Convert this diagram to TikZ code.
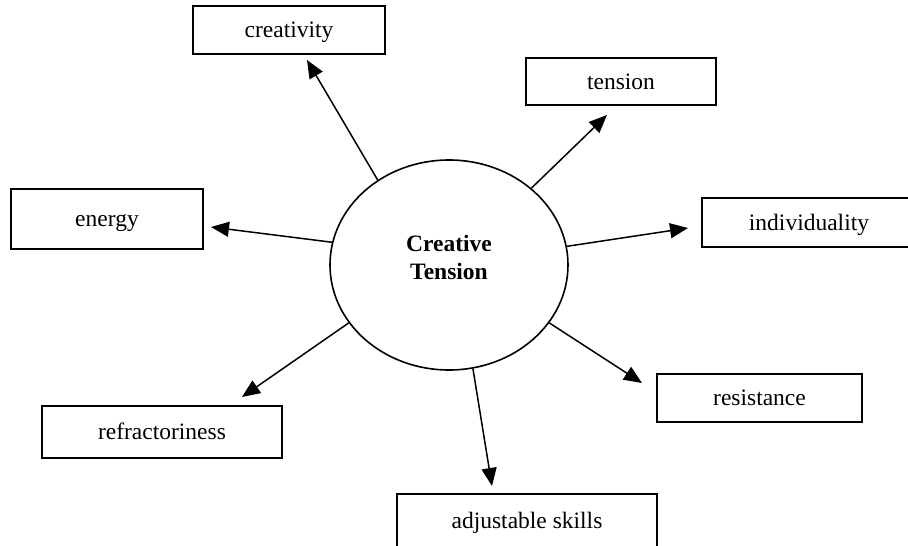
\documentclass[tikz,border=0pt]{standalone}
\usepackage{fontspec}
\setmainfont{Liberation Serif}
\usetikzlibrary{arrows.meta,shapes.geometric}
\begin{document}
\begin{tikzpicture}[x=1pt,y=-1pt,
  lbl/.style={draw,line width=1.7pt,inner sep=0pt,anchor=center,text height=19pt,text depth=4pt,font=\fontsize{23.5}{28}\selectfont},
  arr/.style={line width=1.5pt,-{Triangle[length=18pt,width=15pt]}}]
\useasboundingbox (0,0) rectangle (908,546);
\node[draw,ellipse,line width=1.6pt,minimum width=238pt,minimum height=210pt,inner sep=0pt] (ct) at (449,265) {};
\node[align=center,inner sep=0pt,font=\bfseries\fontsize{23.5}{28}\selectfont] (ctl) at (449,257) {Creative\\Tension};
\node[lbl,minimum width=192pt,minimum height=48pt] (cre) at (289,30) {creativity};
\node[lbl,minimum width=190pt,minimum height=47pt] (ten) at (621,81.5) {tension};
\node[lbl,minimum width=192pt,minimum height=60pt] (ene) at (107,219) {energy};
\node[lbl,minimum width=214pt,minimum height=49pt] (ind) at (809,222.5) {individuality};
\node[lbl,minimum width=240pt,minimum height=52pt] (ref) at (162,432) {refractoriness};
\node[lbl,minimum width=205pt,minimum height=48pt] (res) at (759.5,398) {resistance};
\node[lbl,minimum width=260pt,minimum height=54pt] (adj) at (527,521) {adjustable skills};
\coordinate (tcre) at (307,60);
\coordinate (tten) at (607,115);
\coordinate (tene) at (211,227);
\coordinate (tind) at (688,228);
\coordinate (tref) at (242,397);
\coordinate (tres) at (642,383);
\coordinate (tadj) at (492,486);
\draw[arr] (ct.130.2) -- (tcre);
\draw[arr] (ct.43.2) -- (tten);
\draw[arr] (ct.169.5) -- (tene);
\draw[arr] (ct.9.6) -- (tind);
\draw[arr] (ct.210.4) -- (tref);
\draw[arr] (ct.330.1) -- (tres);
\draw[arr] (ct.283) -- (tadj);
\end{tikzpicture}
\end{document}
